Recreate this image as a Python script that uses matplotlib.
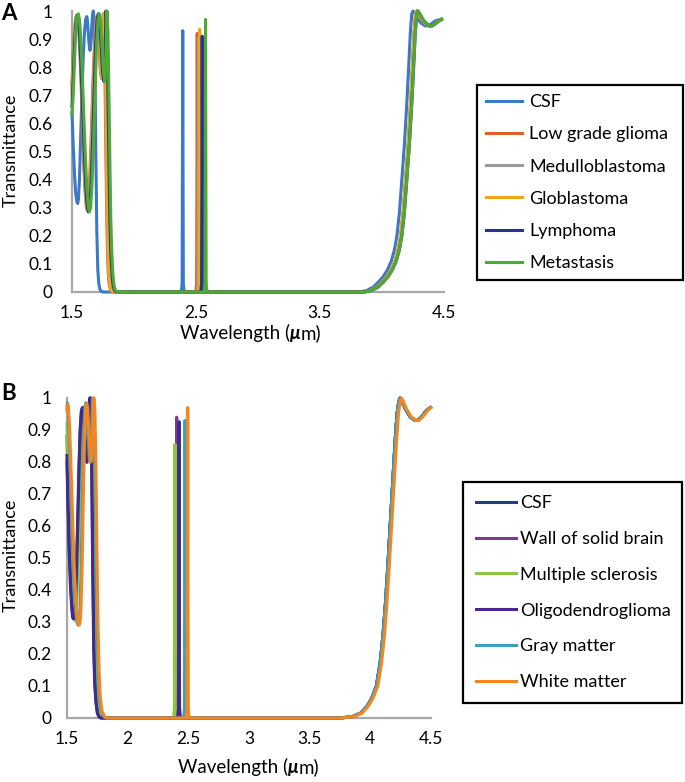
import matplotlib
matplotlib.use("Agg")
import matplotlib.pyplot as plt

plt.rcParams['font.family'] = ['Lato', 'DejaVu Sans']

# ---------------- panel A data ----------------
names_a = ["CSF", "Low grade glioma", "Medulloblastoma", "Globlastoma", "Lymphoma", "Metastasis"]
colors_a = ["#3a78c8", "#e0602a", "#9a9a9a", "#f2a516", "#26368f", "#4daa36"]

csf_a_x = [1.500, 1.510, 1.520, 1.530, 1.540, 1.546, 1.552, 1.560, 1.570, 1.580, 1.590, 1.600, 1.610, 1.618,
           1.623, 1.630, 1.638, 1.645, 1.652, 1.660, 1.667, 1.672, 1.678, 1.685, 1.692, 1.700, 1.708, 1.716,
           1.725, 1.735, 1.750]
csf_a_y = [0.64, 0.52, 0.42, 0.35, 0.32, 0.315, 0.33, 0.40, 0.55, 0.70, 0.83, 0.92, 0.97, 0.98,
           0.975, 0.93, 0.88, 0.86, 0.88, 0.95, 0.99, 1.0, 0.97, 0.80, 0.50, 0.22, 0.08, 0.03,
           0.01, 0.003, 0]

lgg_a_x = [1.500, 1.510, 1.520, 1.530, 1.538, 1.545, 1.555, 1.565, 1.575, 1.585, 1.595, 1.605, 1.615, 1.623,
           1.630, 1.640, 1.655, 1.670, 1.685, 1.695, 1.700, 1.708, 1.718, 1.728, 1.738, 1.746, 1.752, 1.760,
           1.768, 1.776, 1.784, 1.792, 1.800, 1.812, 1.830]
lgg_a_y = [0.74, 0.85, 0.93, 0.975, 0.985, 0.975, 0.93, 0.84, 0.72, 0.58, 0.45, 0.36, 0.305, 0.29,
           0.30, 0.37, 0.55, 0.76, 0.92, 0.975, 0.98, 0.96, 0.88, 0.79, 0.76, 0.82, 0.99, 0.96,
           0.70, 0.40, 0.18, 0.07, 0.025, 0.005, 0]

med_a_x = [1.500, 1.511, 1.522, 1.533, 1.541, 1.548, 1.558, 1.568, 1.578, 1.588, 1.598, 1.608, 1.618, 1.626,
           1.633, 1.643, 1.658, 1.673, 1.688, 1.698, 1.703, 1.711, 1.721, 1.731, 1.741, 1.749, 1.755, 1.763,
           1.771, 1.779, 1.787, 1.795, 1.803, 1.815, 1.833]
med_a_y = [0.72, 0.84, 0.93, 0.975, 0.985, 0.975, 0.93, 0.84, 0.72, 0.58, 0.45, 0.36, 0.305, 0.29,
           0.30, 0.37, 0.55, 0.76, 0.92, 0.975, 0.98, 0.96, 0.88, 0.79, 0.76, 0.82, 0.99, 0.96,
           0.70, 0.40, 0.18, 0.07, 0.025, 0.005, 0]

glob_a_x = [1.500, 1.512, 1.524, 1.535, 1.544, 1.551, 1.561, 1.571, 1.581, 1.591, 1.601, 1.611, 1.621, 1.629,
            1.636, 1.646, 1.661, 1.676, 1.691, 1.701, 1.706, 1.714, 1.724, 1.734, 1.744, 1.752, 1.758, 1.766,
            1.774, 1.782, 1.790, 1.798, 1.806, 1.818, 1.836]
glob_a_y = [0.70, 0.83, 0.92, 0.97, 0.985, 0.975, 0.93, 0.84, 0.72, 0.58, 0.45, 0.36, 0.305, 0.29,
            0.30, 0.37, 0.55, 0.76, 0.92, 0.975, 0.98, 0.96, 0.88, 0.79, 0.76, 0.82, 0.99, 0.96,
            0.70, 0.40, 0.18, 0.07, 0.025, 0.005, 0]

lym_a_x = [1.500, 1.510, 1.520, 1.532, 1.543, 1.552, 1.562, 1.572, 1.582, 1.592, 1.602, 1.612, 1.622, 1.632,
           1.642, 1.652, 1.664, 1.677, 1.690, 1.702, 1.712, 1.722, 1.734, 1.747, 1.757, 1.764, 1.774, 1.782,
           1.790, 1.798, 1.805, 1.812, 1.822, 1.832, 1.844, 1.860]
lym_a_y = [0.66, 0.76, 0.88, 0.96, 0.985, 0.97, 0.91, 0.81, 0.69, 0.57, 0.46, 0.37, 0.31, 0.285,
           0.30, 0.37, 0.51, 0.70, 0.88, 0.97, 0.99, 0.97, 0.88, 0.78, 0.75, 0.80, 1.0, 0.93,
           0.70, 0.45, 0.26, 0.15, 0.06, 0.02, 0.005, 0]

met_a_x = [1.500, 1.510, 1.520, 1.530, 1.540, 1.551, 1.560, 1.570, 1.580, 1.590, 1.600, 1.610, 1.620, 1.630,
           1.640, 1.650, 1.660, 1.672, 1.685, 1.698, 1.710, 1.720, 1.730, 1.742, 1.755, 1.765, 1.772, 1.782,
           1.790, 1.798, 1.806, 1.813, 1.820, 1.830, 1.840, 1.852, 1.870]
met_a_y = [0.63, 0.70, 0.82, 0.93, 0.98, 0.99, 0.97, 0.91, 0.81, 0.69, 0.57, 0.46, 0.37, 0.31,
           0.285, 0.30, 0.37, 0.51, 0.70, 0.88, 0.97, 0.99, 0.97, 0.88, 0.78, 0.75, 0.80, 1.0,
           0.93, 0.70, 0.45, 0.26, 0.15, 0.06, 0.02, 0.005, 0]

# narrow peaks near 2.4-2.6 um
spike_a_x = [[2.381, 2.388, 2.391, 2.393, 2.395, 2.398, 2.405],
             [2.498, 2.505, 2.508, 2.510, 2.512, 2.515, 2.522],
             [2.508, 2.515, 2.518, 2.520, 2.522, 2.525, 2.532],
             [2.518, 2.525, 2.528, 2.530, 2.532, 2.535, 2.542],
             [2.538, 2.545, 2.548, 2.550, 2.552, 2.555, 2.562],
             [2.565, 2.572, 2.575, 2.577, 2.579, 2.582, 2.589]]
spike_a_y = [[0, 0.03, 0.5, 0.93, 0.5, 0.03, 0],
             [0, 0.03, 0.5, 0.92, 0.5, 0.03, 0],
             [0, 0.03, 0.5, 0.905, 0.5, 0.03, 0],
             [0, 0.03, 0.5, 0.935, 0.5, 0.03, 0],
             [0, 0.03, 0.5, 0.91, 0.5, 0.03, 0],
             [0, 0.03, 0.5, 0.97, 0.5, 0.03, 0]]

# long wavelength edge
rise_a_y = [0, 0.006, 0.018, 0.035, 0.055, 0.08, 0.11, 0.15, 0.20, 0.28, 0.40, 0.52, 0.67, 0.80, 0.92,
            0.99, 1.0, 0.99, 0.97, 0.955, 0.947, 0.947, 0.955, 0.965, 0.97]
rise_a_x_csf = [3.82, 3.88, 3.93, 3.97, 4.01, 4.045, 4.075, 4.10, 4.12, 4.14, 4.16, 4.18, 4.20, 4.215, 4.228,
                4.24, 4.25, 4.265, 4.29, 4.32, 4.35, 4.37, 4.40, 4.43, 4.47]
rise_a_x_mid = [3.85, 3.91, 3.96, 4.00, 4.04, 4.075, 4.105, 4.13, 4.15, 4.17, 4.19, 4.21, 4.23, 4.245, 4.258,
                4.27, 4.28, 4.295, 4.32, 4.35, 4.38, 4.40, 4.43, 4.455, 4.48]
rise_a_x_late = [3.86, 3.92, 3.97, 4.01, 4.05, 4.085, 4.115, 4.14, 4.16, 4.18, 4.20, 4.22, 4.24, 4.255, 4.268,
                 4.28, 4.29, 4.305, 4.33, 4.36, 4.385, 4.405, 4.43, 4.46, 4.48]

left_a = [(csf_a_x, csf_a_y), (lgg_a_x, lgg_a_y), (med_a_x, med_a_y),
          (glob_a_x, glob_a_y), (lym_a_x, lym_a_y), (met_a_x, met_a_y)]
rise_a = [rise_a_x_csf, rise_a_x_mid, rise_a_x_mid, rise_a_x_mid, rise_a_x_late, rise_a_x_late]

# ---------------- panel B data ----------------
names_b = ["CSF", "Wall of solid brain", "Multiple sclerosis", "Oligodendroglioma", "Gray matter", "White matter"]
colors_b = ["#203f7f", "#7e3a93", "#8dc641", "#45288a", "#3aa0c0", "#f5861f"]

csf_b_x = [1.500, 1.509, 1.518, 1.528, 1.538, 1.546, 1.553, 1.560, 1.568, 1.578, 1.588, 1.598, 1.608, 1.618,
           1.627, 1.634, 1.643, 1.653, 1.661, 1.670, 1.679, 1.688, 1.696, 1.704, 1.712, 1.720, 1.728, 1.738,
           1.750, 1.763, 1.778]
csf_b_y = [0.80, 0.65, 0.52, 0.42, 0.35, 0.315, 0.31, 0.32, 0.36, 0.47, 0.62, 0.78, 0.90, 0.96,
           0.97, 0.955, 0.88, 0.81, 0.80, 0.86, 0.97, 1.0, 0.96, 0.75, 0.45, 0.22, 0.11, 0.05,
           0.015, 0.004, 0]

wall_b_x = [1.500, 1.512, 1.523, 1.534, 1.544, 1.552, 1.559, 1.566, 1.574, 1.584, 1.594, 1.604, 1.614, 1.624,
            1.633, 1.640, 1.649, 1.659, 1.667, 1.676, 1.685, 1.694, 1.702, 1.710, 1.718, 1.726, 1.734, 1.744,
            1.756, 1.769, 1.784]
wall_b_y = [0.88, 0.70, 0.54, 0.43, 0.355, 0.318, 0.31, 0.32, 0.36, 0.47, 0.62, 0.78, 0.90, 0.96,
            0.97, 0.955, 0.88, 0.81, 0.80, 0.86, 0.97, 1.0, 0.96, 0.75, 0.45, 0.22, 0.11, 0.05,
            0.015, 0.004, 0]

ms_b_x = [1.500, 1.512, 1.524, 1.536, 1.547, 1.556, 1.564, 1.572, 1.580, 1.590, 1.600, 1.610, 1.620, 1.630,
          1.640, 1.647, 1.656, 1.666, 1.674, 1.683, 1.692, 1.701, 1.709, 1.717, 1.725, 1.733, 1.741, 1.751,
          1.763, 1.776, 1.792]
ms_b_y = [0.92, 0.76, 0.58, 0.45, 0.36, 0.32, 0.305, 0.315, 0.36, 0.47, 0.62, 0.78, 0.90, 0.96,
          0.97, 0.955, 0.88, 0.81, 0.80, 0.86, 0.97, 1.0, 0.96, 0.75, 0.45, 0.22, 0.11, 0.05,
          0.015, 0.004, 0]

oli_b_x = [1.500, 1.510, 1.520, 1.530, 1.540, 1.548, 1.555, 1.562, 1.570, 1.580, 1.590, 1.600, 1.610, 1.620,
           1.629, 1.636, 1.645, 1.655, 1.663, 1.672, 1.681, 1.690, 1.698, 1.706, 1.714, 1.722, 1.730, 1.740,
           1.752, 1.765, 1.780]
oli_b_y = [0.82, 0.66, 0.52, 0.42, 0.35, 0.315, 0.31, 0.32, 0.36, 0.47, 0.62, 0.78, 0.90, 0.96,
           0.97, 0.955, 0.88, 0.81, 0.80, 0.86, 0.97, 1.0, 0.96, 0.75, 0.45, 0.22, 0.11, 0.05,
           0.015, 0.004, 0]

gray_b_x = [1.500, 1.503, 1.508, 1.514, 1.523, 1.532, 1.542, 1.552, 1.562, 1.572, 1.582, 1.592, 1.600, 1.607,
            1.617, 1.627, 1.637, 1.647, 1.654, 1.662, 1.672, 1.682, 1.689, 1.697, 1.704, 1.710, 1.716, 1.722,
            1.730, 1.738, 1.747, 1.757, 1.767, 1.782, 1.802, 1.822]
gray_b_y = [0.97, 0.985, 0.975, 0.92, 0.82, 0.70, 0.58, 0.47, 0.39, 0.33, 0.30, 0.29, 0.30, 0.34,
            0.48, 0.70, 0.88, 0.97, 0.985, 0.97, 0.90, 0.82, 0.80, 0.82, 0.92, 1.0, 1.0, 0.96,
            0.80, 0.55, 0.30, 0.14, 0.06, 0.02, 0.005, 0]

white_b_x = [1.500, 1.505, 1.510, 1.520, 1.530, 1.540, 1.550, 1.560, 1.570, 1.580, 1.590, 1.600, 1.608, 1.615,
             1.625, 1.635, 1.645, 1.655, 1.662, 1.670, 1.680, 1.690, 1.697, 1.705, 1.712, 1.718, 1.724, 1.730,
             1.738, 1.746, 1.755, 1.765, 1.775, 1.790, 1.810, 1.830]
white_b_y = [0.96, 0.98, 0.975, 0.92, 0.82, 0.70, 0.58, 0.47, 0.39, 0.33, 0.30, 0.29, 0.30, 0.34,
             0.48, 0.70, 0.88, 0.97, 0.985, 0.97, 0.90, 0.82, 0.80, 0.82, 0.92, 1.0, 1.0, 0.96,
             0.80, 0.55, 0.30, 0.14, 0.06, 0.02, 0.005, 0]

spike_b_x = [[2.398, 2.405, 2.408, 2.410, 2.412, 2.415, 2.422],
             [2.392, 2.399, 2.402, 2.404, 2.406, 2.409, 2.416],
             [2.378, 2.385, 2.388, 2.390, 2.392, 2.395, 2.402],
             [2.411, 2.418, 2.421, 2.423, 2.425, 2.428, 2.435],
             [2.461, 2.468, 2.471, 2.473, 2.475, 2.478, 2.485],
             [2.483, 2.490, 2.493, 2.495, 2.497, 2.500, 2.507]]
spike_b_y = [[0, 0.03, 0.5, 0.92, 0.5, 0.03, 0],
             [0, 0.03, 0.5, 0.94, 0.5, 0.03, 0],
             [0, 0.03, 0.5, 0.855, 0.5, 0.03, 0],
             [0, 0.03, 0.5, 0.926, 0.5, 0.03, 0],
             [0, 0.03, 0.5, 0.93, 0.5, 0.03, 0],
             [0, 0.03, 0.5, 0.97, 0.5, 0.03, 0]]

rise_b_y = [0, 0.004, 0.015, 0.035, 0.06, 0.10, 0.17, 0.26, 0.36, 0.48, 0.61, 0.74, 0.87, 0.95, 0.99, 1.0,
            0.99, 0.965, 0.94, 0.93, 0.93, 0.94, 0.96, 0.97]
rise_b_x_main = [3.75, 3.85, 3.92, 3.97, 4.01, 4.05, 4.08, 4.105, 4.125, 4.145, 4.165, 4.185, 4.205, 4.22,
                 4.235, 4.245, 4.26, 4.29, 4.33, 4.37, 4.39, 4.42, 4.46, 4.495]
rise_b_x_white = [3.76, 3.86, 3.93, 3.98, 4.02, 4.062, 4.092, 4.117, 4.137, 4.157, 4.177, 4.197, 4.217, 4.232,
                  4.247, 4.257, 4.272, 4.30, 4.34, 4.38, 4.40, 4.43, 4.47, 4.50]

left_b = [(csf_b_x, csf_b_y), (wall_b_x, wall_b_y), (ms_b_x, ms_b_y),
          (oli_b_x, oli_b_y), (gray_b_x, gray_b_y), (white_b_x, white_b_y)]
rise_b = [rise_b_x_main, rise_b_x_main, rise_b_x_main, rise_b_x_main, rise_b_x_main, rise_b_x_white]

xticks_a = [1.5, 2.5, 3.5, 4.5]
xticks_b = [1.5, 2, 2.5, 3, 3.5, 4, 4.5]
yticks = [0, 0.1, 0.2, 0.3, 0.4, 0.5, 0.6, 0.7, 0.8, 0.9, 1]

W, H = 685, 782
fig = plt.figure(figsize=(W / 100, H / 100), dpi=100)
ax_a = fig.add_axes([72 / W, 1 - 292 / H, 372 / W, 281 / H])
ax_b = fig.add_axes([67 / W, 1 - 718 / H, 364 / W, 320 / H])


def draw_panel(ax, names, colors, left, spx, spy, rise_x, rise_y):
    for i in range(len(names)):
        xs = left[i][0] + spx[i] + rise_x[i]
        ys = left[i][1] + spy[i] + rise_y
        ax.plot(xs, ys, color=colors[i], lw=2.2, label=names[i], zorder=3, clip_on=False,
                solid_joinstyle='round')
    ax.set_xlim(1.5, 4.5)
    ax.set_ylim(0, 1)
    for s in ['top', 'right']:
        ax.spines[s].set_visible(False)
    for s in ['left', 'bottom']:
        ax.spines[s].set_color('#a8a8a8')
        ax.spines[s].set_linewidth(1.6)
    ax.set_yticks(yticks)
    ax.set_yticklabels(['0' if v == 0 else ('1' if v == 1 else f"{v:.1f}") for v in yticks])
    ax.tick_params(length=0, labelsize=12.5)


draw_panel(ax_a, names_a, colors_a, left_a, spike_a_x, spike_a_y, rise_a, rise_a_y)
draw_panel(ax_b, names_b, colors_b, left_b, spike_b_x, spike_b_y, rise_b, rise_b_y)

ax_a.set_xticks(xticks_a)
ax_a.set_xticklabels([str(v) for v in xticks_a])
ax_b.set_xticks(xticks_b)
ax_b.set_xticklabels([f"{v:g}" for v in xticks_b])
ax_a.tick_params(axis='y', pad=14)
ax_a.tick_params(axis='x', pad=9)
ax_b.tick_params(axis='y', pad=11)
ax_b.tick_params(axis='x', pad=9)

leg_a = ax_a.legend(loc='upper left', bbox_to_anchor=(477 / W, 1 - 85 / H, 206 / W, 0),
                    bbox_transform=fig.transFigure, mode='expand', fontsize=13,
                    handlelength=2.0, handletextpad=0.38, labelspacing=0.9, borderpad=0.5,
                    borderaxespad=0, fancybox=False, edgecolor='black', framealpha=1)
leg_a.get_frame().set_linewidth(1.6)
leg_b = ax_b.legend(loc='upper left', bbox_to_anchor=(463 / W, 1 - 482 / H, 219 / W, 0),
                    bbox_transform=fig.transFigure, mode='expand', fontsize=13,
                    handlelength=2.2, handletextpad=0.22, labelspacing=1.1, borderpad=0.72,
                    borderaxespad=0, fancybox=False, edgecolor='black', framealpha=1)
leg_b.get_frame().set_linewidth(1.6)

# axis titles
for ypix in [150, 555]:
    fig.text(11 / W, 1 - ypix / H, "Transmittance", rotation=90, ha='center', va='center', fontsize=13)

for xpix, ypix in [(180, 333), (178, 767)]:
    t1 = fig.text(xpix / W, 1 - ypix / H, "Wavelength (", ha='left', va='center', fontsize=13.5)
    t2 = ax_a.annotate("\u03bc", xy=(1, 0), xycoords=t1, ha='left', va='bottom', fontsize=13.5,
                       fontweight='bold', fontstyle='italic', annotation_clip=False)
    ax_a.annotate("m)", xy=(1, 0), xycoords=t2, ha='left', va='bottom', fontsize=13.5,
                  annotation_clip=False)

fig.text(1 / W, 1 - 13 / H, "A", fontsize=16, fontweight='bold', ha='left', va='center')
fig.text(1 / W, 1 - 394 / H, "B", fontsize=16, fontweight='bold', ha='left', va='center')

fig.savefig("out.png", dpi=100)
